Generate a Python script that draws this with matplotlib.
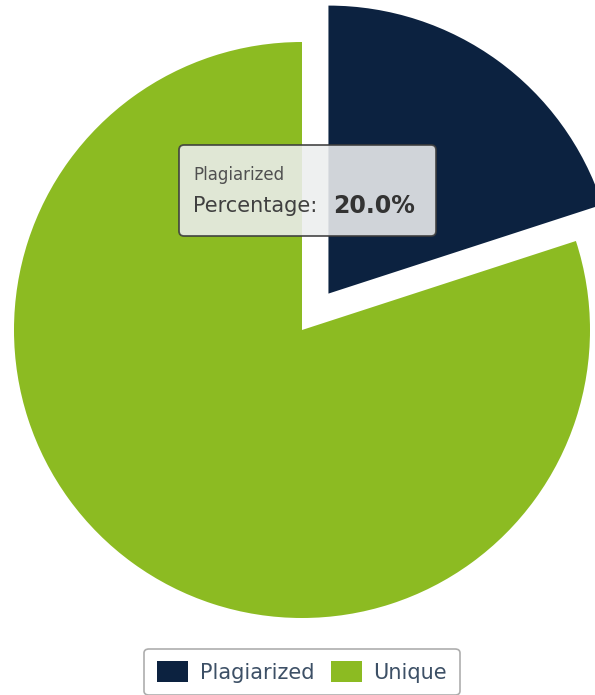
import matplotlib.pyplot as plt
from matplotlib.patches import FancyBboxPatch

labels = ['Plagiarized', 'Unique']
shares = [20.0, 80.0]
colors = ['#0c2240', '#8cbb22']
tip_series = 'Plagiarized'
tip_value = 20.0

fig = plt.figure(figsize=(5.95, 6.95), dpi=100)
ax = fig.add_axes([0, 0, 1, 1])
ax.set_xlim(0, 595)
ax.set_ylim(-695, 0)
ax.set_aspect('equal')
ax.axis('off')

wedges, _ = ax.pie(shares, colors=colors, startangle=90, counterclock=False,
                   center=(302, -330), radius=288, explode=[45, 0],
                   wedgeprops=dict(linewidth=0))
ax.set_xlim(0, 595)
ax.set_ylim(-695, 0)

# tooltip
tip = FancyBboxPatch((179, -236), 257, 91, boxstyle='round,pad=0,rounding_size=5',
                     facecolor='#eceeef', alpha=0.88, edgecolor='#3c3c3c',
                     linewidth=1.3, zorder=5)
ax.add_patch(tip)
ax.text(193, -175, tip_series, fontsize=12, color='#505050', va='center',
        ha='left', zorder=6)
t = ax.text(193, -206, 'Percentage:', fontsize=15, color='#404040',
            va='center', ha='left', zorder=6)
ax.annotate(f'{tip_value:.1f}%', xycoords=t, xy=(1, 0.5), xytext=(16, 0),
            textcoords='offset pixels', va='center', ha='left', fontsize=17,
            fontweight='bold', color='#333333', zorder=6)

leg = ax.legend(wedges, labels, loc='center', bbox_to_anchor=(302 / 595, 1 - 672 / 695),
                ncol=2, fontsize=15, frameon=True, fancybox=True,
                handlelength=1.5, handleheight=1.15, handletextpad=0.55,
                columnspacing=0.8, borderpad=0.6, edgecolor='#999999')
for txt in leg.get_texts():
    txt.set_color('#3d5066')
leg.get_frame().set_linewidth(1.2)

fig.savefig('out.png', dpi=100)
